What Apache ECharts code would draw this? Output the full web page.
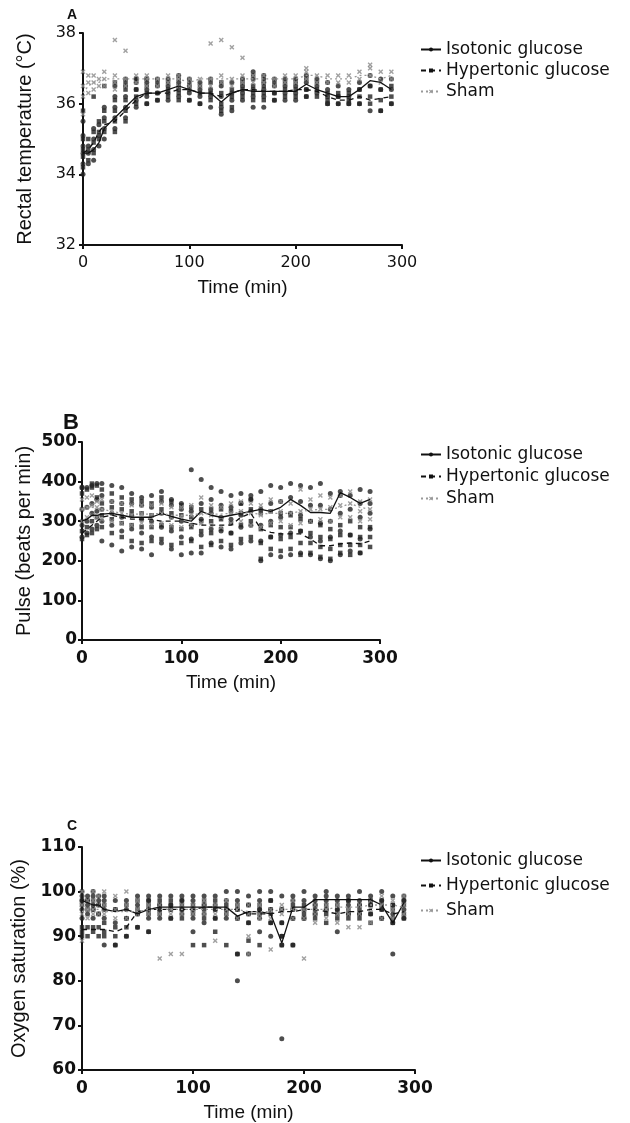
<!DOCTYPE html>
<html>
<head>
<meta charset="utf-8">
<script src="https://cdn.jsdelivr.net/npm/echarts@6/dist/echarts.min.js"></script>
<style>
  html, body { margin: 0; padding: 0; background: #fff; }
  #main { width: 630px; height: 1123px; }
</style>
</head>
<body>
<div id="main"></div>
<script>
// time points (min), shared by all three panels
const TIME = [0,5,10,15,20,30,40,50,60,70,80,90,100,110,120,130,140,150,160,170,180,190,200,210,220,230,240,250,260,270,280,290];
const SERIES_NAMES = ['Isotonic glucose', 'Hypertonic glucose', 'Sham'];

// ---- A: rectal temperature (°C) ----
const isoMeanA = [34.6,34.6,34.7,34.9,35.3,35.6,35.9,36.2,36.3,36.3,36.4,36.5,36.4,36.3,36.3,36.05,36.3,36.4,36.35,36.35,36.35,36.35,36.35,36.55,36.4,36.3,36.2,36.2,36.4,36.65,36.6,36.4];
const hyperMeanA = [34.6,34.7,34.9,35.2,35.4,35.5,35.8,36.1,36.3,36.3,36.3,36.4,36.4,36.3,36.3,36.2,36.3,36.4,36.4,36.35,36.35,36.35,36.4,36.4,36.35,36.2,36.1,36.1,36.2,36.1,36.15,36.2];
const shamMeanA = [36.3,36.5,36.6,36.6,36.7,36.7,36.7,36.7,36.7,36.7,36.7,36.7,36.6,36.7,36.7,36.7,36.7,36.7,36.7,36.7,36.7,36.7,36.7,36.8,36.8,36.7,36.7,36.7,36.8,36.8,36.7,36.8];
const isoPtsA = [[34.0,34.3,34.6,34.8,35.1,35.5],[34.3,34.6,34.8],[34.4,34.7,35.0,35.3],[34.8,35.1,35.4],[35.0,35.3,35.6,35.9],
  [35.3,35.6,35.9,36.2,36.5],[35.6,35.9,36.2,36.5,36.7],[35.9,36.1,36.4,36.6,36.7],[36.0,36.2,36.4,36.6,36.7],[36.1,36.3,36.5,36.7],
  [36.1,36.3,36.5,36.7],[36.2,36.4,36.6,36.8],[36.1,36.3,36.5,36.7],[36.0,36.2,36.4,36.6],[35.9,36.2,36.4,36.7],[35.7,35.9,36.2,36.5],
  [35.8,36.1,36.3,36.6],[36.1,36.3,36.5,36.7],[35.9,36.2,36.4,36.7,36.9],[35.9,36.2,36.4,36.6,36.8],[36.1,36.3,36.5,36.7],[36.1,36.3,36.5,36.7],
  [36.1,36.3,36.5,36.7],[36.2,36.4,36.6,36.8],[36.3,36.5,36.7],[36.0,36.2,36.4,36.6],[36.0,36.2,36.5],[36.0,36.2,36.4],
  [36.0,36.4,36.6],[35.8,36.5,36.8],[35.8,36.4,36.7],[36.0,36.4,36.7]];
const hyperPtsA = [[34.2,34.5,34.7,35.0,35.8],[34.4,34.7,35.0],[34.6,34.9,35.2,36.2],[35.0,35.2,35.5],[35.2,35.5,35.8,36.5],
  [35.2,35.5,35.8,36.1,36.6],[35.5,35.8,36.1,36.4,36.6],[36.0,36.2,36.4,36.7],[36.0,36.3,36.5,36.7],[36.1,36.3,36.6],
  [36.2,36.4,36.6],[36.1,36.3,36.5,36.7],[36.1,36.4,36.6],[36.0,36.3,36.5],[36.1,36.3,36.6],[35.8,36.0,36.3,36.6],
  [35.9,36.2,36.4],[36.2,36.4,36.6],[36.1,36.3,36.5,36.8],[36.1,36.3,36.5,36.7],[36.1,36.3,36.6],[36.2,36.4,36.6],
  [36.2,36.4,36.6],[36.2,36.4,36.7],[36.2,36.4,36.6],[36.0,36.1,36.3],[36.0,36.2,36.3],[36.0,36.1,36.3],
  [36.0,36.2,36.4],[36.0,36.2,36.5],[35.8,36.1,36.4],[36.0,36.2,36.5]];
const shamPtsA = [[35.7,36.2,36.5,36.9],[36.3,36.6,36.8],[36.4,36.6,36.8],[36.5,36.7],[36.5,36.7,36.9],
  [36.4,36.6,36.8,37.8],[36.5,36.7,37.5],[36.6,36.8],[36.5,36.7,36.8],[36.5,36.7],
  [36.6,36.8],[36.5,36.7,36.8],[36.5,36.7],[36.5,36.7],[36.5,36.7,37.7],[36.6,36.8,37.8],
  [36.5,36.7,37.6],[36.6,36.8,37.3],[36.6,36.8],[36.6,36.8],[36.5,36.7],[36.6,36.8],
  [36.6,36.8],[36.7,36.9,37.0],[36.6,36.8],[36.6,36.8],[36.6,36.8],[36.6,36.8],
  [36.7,36.9],[36.8,37.0,37.1],[36.6,36.9],[36.7,36.9]];

// ---- B: pulse (beats per min) ----
const isoMeanB = [300,305,315,315,318,320,315,310,310,310,320,312,305,300,325,315,310,315,320,325,330,325,335,355,340,322,322,320,372,360,345,355];
const hyperMeanB = [270,280,290,300,310,315,310,305,305,305,300,300,300,295,290,290,290,290,310,320,280,272,268,268,268,255,238,238,243,245,243,250];
const shamMeanB = [330,335,335,333,330,325,320,318,318,318,320,315,315,315,320,318,318,320,322,320,318,320,320,320,325,328,330,330,335,345,335,330];
const isoPtsB = [[260,290,330,385],[270,300,335,385],[280,320,345,390],[290,325,355,395],[250,300,330,365,395],
  [240,290,320,350,390],[225,275,310,345,385],[235,280,315,345,370],[230,270,305,340,360],[215,260,300,335,365],
  [245,285,320,350,375],[230,275,310,340,355],[215,260,300,330,345],[220,255,290,325,430],[220,265,305,345,405],
  [245,280,320,355,385],[235,275,310,340,375],[230,270,305,335,365],[245,285,315,345,370],[250,290,325,355,365],
  [200,250,290,330,375],[215,260,300,345,390],[210,265,310,350,385],[215,270,320,360,395],[220,275,315,350,390],
  [215,260,300,340,385],[205,250,295,340,395],[200,260,300,330,370],[215,275,320,365,375],[225,265,330,365],
  [220,255,310,345,380],[280,320,345,375]];
const hyperPtsB = [[255,275,370,385],[265,285,380],[270,300,385,395],[280,310,360,390],[285,315,345,380],
  [270,305,335,370],[260,295,330,360],[250,290,325,355],[245,285,320,350],[250,285,315,345],
  [255,290,330,360],[240,285,320,350],[245,280,315,340],[250,285,310,335],[235,275,300,330],
  [240,270,300,330],[250,280,305,330],[240,270,295,325],[255,290,320,345],[260,300,330,355],
  [205,245,280,320],[230,260,290,325],[225,255,285,320],[230,260,285,315],[215,245,275,305],
  [220,245,270,300],[210,235,260,290],[205,230,255,280],[220,240,265,290],[215,240,265,300],
  [220,240,260,285],[235,260,285]];
const shamPtsB = [[300,330,355],[310,335,360],[315,340,365],[310,335,350],[305,330,355],
  [300,325,350],[295,320,345],[290,315,340],[295,320,340],[290,315,340],
  [295,320,345],[290,310,335],[285,310,335],[290,315,340],[295,320,360],
  [290,315,340],[285,310,335],[295,320,345],[300,325,350],[290,320,345],
  [285,315,340],[295,325,355],[300,325,350],[290,320,345],[295,325,380],
  [300,330,355],[305,330,365],[300,335,360],[310,340,365],[310,345,375],
  [300,325,350],[305,330,355]];

// ---- C: oxygen saturation (%) ----
const isoMeanC = [98,97.5,97,97,96,95.5,96,95,96,96.5,96.5,96.5,96.5,96.5,96.5,96.5,94.5,95.5,95.5,95,88.5,96.5,96.5,98.2,98.2,98.2,98.2,98.2,98.2,97,93,97.5];
const hyperMeanC = [91.5,91.5,91.5,91.5,91.5,91,92,95.5,96,96,96,96,96,96.5,96.5,96,96,95,95,95,95.5,95.5,96,96,95.5,95,95.5,95.5,96,96,95,95.5];
const shamMeanC = [95.5,96,96,96,95.5,95.5,95.5,95.5,96,96,96,96,96,96,96,96,96,95.5,95.5,95.5,96,96,96,96,96,96.5,96.5,96.5,97,97,97,96.5];
const isoPtsC = [[94,96,98,99,100],[95,97,98,99],[94,96,97,99,100],[95,97,98,99],[88,94,96,98,99],
  [88,93,96,98],[90,94,96,98],[92,95,97,99],[91,94,96,98,99],[94,96,97,99],
  [94,96,97,99],[95,96,98,99],[91,94,96,98,99],[93,95,97,99],[94,96,97,99],
  [94,96,98,100],[80,86,94,96,98,100],[86,93,95,97,99],[91,94,96,98,100],[90,93,96,98,100],
  [67,88,90,93,96,99],[88,94,96,98,99],[94,96,98,100],[95,97,98,99],[96,98,99,100],
  [91,96,98,99],[95,97,98,99],[95,97,98,100],[95,97,98,99],[94,96,98,100],
  [86,93,95,97,99],[94,96,98,99]];
const hyperPtsC = [[90,91,92,97,98],[90,92,96,98],[91,92,96,98],[90,92,95,97],[90,91,93,97],
  [88,90,92,96],[90,92,94,97],[92,95,96,98],[91,95,96,97,98],[95,96,97,98],
  [94,96,97,98],[94,96,97,98],[88,95,96,97],[88,94,96,97,98],[91,94,96,98],
  [88,95,96,97],[86,94,96,97],[89,93,95,97],[88,95,96,97],[93,95,96,98],
  [88,90,93,96],[88,94,96,97],[94,95,96,97],[94,95,96,97],[93,95,96,97],
  [94,95,96,97],[94,95,96,98],[94,95,96,97],[93,95,97,98],[94,96,97,98],
  [93,94,96,97],[94,95,97,98]];
const shamPtsC = [[89,95,97,100],[94,96,98],[95,96,98,100],[95,97,99],[95,97,100],
  [94,96,99],[94,97,100],[95,96,98],[95,96,97],[85,95,97],
  [86,95,96],[86,95,97],[95,96,97],[95,97,98],[89,95,97],
  [95,96,98],[94,96,97],[86,90,95,97],[94,95,97],[87,94,96],
  [95,96,97],[94,96,98],[85,94,96],[93,95,97],[94,96,97],
  [93,95,97],[92,95,96],[92,95,97],[93,96,98],[94,97,99],
  [94,96,98],[95,97,99]];

const panels = [
  { letter: 'A', letterSize: 14, yName: 'Rectal temperature (\u00b0C)', yMin: 32, yMax: 38, yStep: 2, bold: false,
    grid: { left: 83, top: 33, width: 319, height: 212 }, legendTop: 36, legendGap: 4, letterPos: [72, 15],
    yLabelMargin: 7, means: [isoMeanA, hyperMeanA, shamMeanA], pts: [isoPtsA, hyperPtsA, shamPtsA] },
  { letter: 'B', letterSize: 22, yName: 'Pulse (beats per min)', yMin: 0, yMax: 500, yStep: 100, bold: true,
    grid: { left: 82, top: 442, width: 298, height: 198 }, legendTop: 441, legendGap: 5, letterPos: [71, 423],
    yLabelMargin: 5, means: [isoMeanB, hyperMeanB, shamMeanB], pts: [isoPtsB, hyperPtsB, shamPtsB] },
  { letter: 'C', letterSize: 14, yName: 'Oxygen saturation (%)', yMin: 60, yMax: 110, yStep: 10, bold: true,
    grid: { left: 82, top: 847, width: 333, height: 224 }, legendTop: 847, legendGap: 8, letterPos: [72, 826],
    yLabelMargin: 6, means: [isoMeanC, hyperMeanC, shamMeanC], pts: [isoPtsC, hyperPtsC, shamPtsC] }
];

const FONT = '"Liberation Sans", Arial, sans-serif';
const TICK_FONT = '"DejaVu Sans", sans-serif';
const CROSS = 'path://M2,0L5,3L8,0L10,2L7,5L10,8L8,10L5,7L2,10L0,8L3,5L0,2Z';
const markStyle = [
  { symbol: 'circle', size: 5, color: '#222' },
  { symbol: 'rect', size: 4.5, color: '#222' },
  { symbol: CROSS, size: 5, color: '#8a8a8a' }
];
const lineStyles = [
  { color: '#111', width: 1.3, type: 'solid' },
  { color: '#111', width: 1.3, type: [5, 4] },
  { color: '#999', width: 1.3, type: [2, 3] }
];

const flatten = rows => {
  const out = [];
  rows.forEach((vals, i) => vals.forEach(v => out.push([TIME[i], v])));
  return out;
};

const grid = [], xAxis = [], yAxis = [], series = [], legend = [], graphic = [];
panels.forEach((p, gi) => {
  grid.push(p.grid);
  const labelStyle = {
    color: '#111', fontFamily: TICK_FONT,
    fontSize: p.bold ? 17 : 16, fontWeight: p.bold ? 'bold' : 'normal'
  };
  xAxis.push({
    type: 'value', gridIndex: gi, min: 0, max: 300, interval: 100,
    name: 'Time (min)', nameLocation: 'middle', nameGap: 33,
    nameTextStyle: { color: '#111', fontSize: 19, fontFamily: FONT },
    axisLine: { onZero: false, lineStyle: { color: '#111', width: 2 } },
    axisTick: { length: 4, lineStyle: { color: '#111', width: 2 } },
    axisLabel: Object.assign({ margin: 10 }, labelStyle),
    splitLine: { show: false }
  });
  yAxis.push({
    type: 'value', gridIndex: gi, min: p.yMin, max: p.yMax, interval: p.yStep,
    name: p.yName, nameLocation: 'middle', nameGap: 48,
    nameTextStyle: { color: '#111', fontSize: 20, fontFamily: FONT },
    axisLine: { onZero: false, lineStyle: { color: '#111', width: 2 } },
    axisTick: { length: 4, lineStyle: { color: '#111', width: 2 } },
    axisLabel: Object.assign({ margin: p.yLabelMargin }, labelStyle),
    splitLine: { show: false }
  });
  SERIES_NAMES.forEach((name, k) => {
    series.push({
      type: 'scatter', name: name + ' pts ' + p.letter, xAxisIndex: gi, yAxisIndex: gi,
      symbol: markStyle[k].symbol, symbolSize: markStyle[k].size,
      itemStyle: { color: markStyle[k].color },
      data: flatten(p.pts[k]), silent: true, z: 2
    });
  });
  SERIES_NAMES.forEach((name, k) => {
    series.push({
      type: 'line', name: name, xAxisIndex: gi, yAxisIndex: gi,
      symbol: markStyle[k].symbol, symbolSize: 5, showSymbol: false,
      itemStyle: { color: lineStyles[k].color },
      lineStyle: lineStyles[k],
      data: TIME.map((t, i) => [t, p.means[k][i]]), z: 3
    });
  });
  legend.push({
    orient: 'vertical', left: 415, top: p.legendTop, itemGap: p.legendGap,
    itemWidth: 20, itemHeight: 5, data: SERIES_NAMES, selectedMode: false,
    textStyle: { color: '#111', fontSize: 17, fontFamily: '"DejaVu Sans", sans-serif' }
  });
  graphic.push({
    type: 'text', x: p.letterPos[0], y: p.letterPos[1],
    style: { text: p.letter, fill: '#111', font: 'bold ' + p.letterSize + 'px ' + FONT,
      textAlign: 'center', textVerticalAlign: 'middle' }
  });
});

const chart = echarts.init(document.getElementById('main'));
chart.setOption({
  animation: false,
  backgroundColor: '#fff',
  grid, xAxis, yAxis, series, legend, graphic
});
</script>
</body>
</html>
